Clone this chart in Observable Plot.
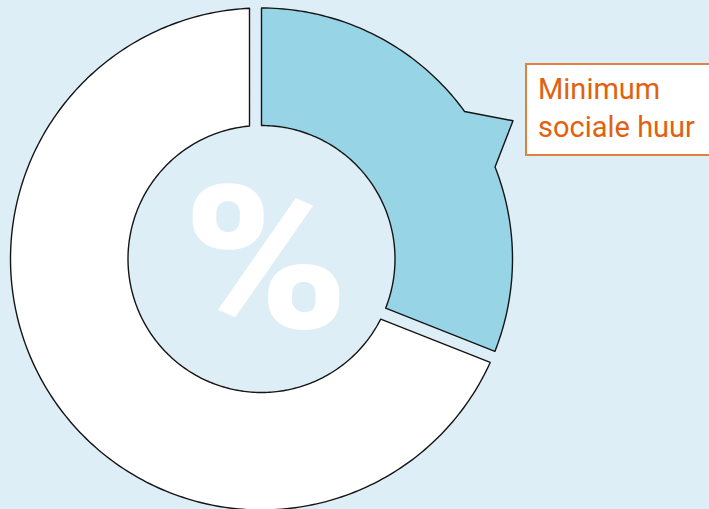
<!DOCTYPE html>
<html><head><meta charset="utf-8">
<script src="https://cdn.jsdelivr.net/npm/d3@7"></script>
<script src="https://cdn.jsdelivr.net/npm/@observablehq/plot@0.6"></script>
<style>
html,body{margin:0;padding:0;background:#ddeef6;}
#wrap{position:relative;width:709px;height:509px;overflow:hidden;}
#wrap svg{position:absolute;left:0;top:0;}
#label{position:absolute;left:525px;top:63px;width:200px;height:93px;background:#fff;border:2px solid #e2803f;box-sizing:border-box;padding:5px 0 0 11px;font-family:Roboto,"Liberation Sans",sans-serif;font-size:29px;line-height:38px;color:#e0620f;white-space:nowrap;}
</style></head><body><div id="wrap"></div>
<script>
// ---- data ----
const categories = ["Minimum sociale huur", "Overig"];
const shares = [31, 69];
const sliceColors = ["#96d4e6", "#ffffff"];
const labelLines = ["Minimum", "sociale huur"];
const centerSymbol = ["%"];

// ---- layout ----
const W = 709, H = 509, CX = 261, CY = 258.5;
const R = 251, r = 133.5, GAP = 12;
const deg = Math.PI / 180;
const pt = (a, rho) => ({x: rho * Math.sin(a * deg), y: -rho * Math.cos(a * deg)});
const arcPts = (a0, a1, rho) => {
  const n = Math.max(2, Math.ceil(Math.abs(a1 - a0)));
  return d3.range(n + 1).map(i => pt(a0 + (a1 - a0) * i / n, rho));
};

const total = d3.sum(shares);
const a1 = shares[0] / total * 360;

// highlighted slice with callout pointer
const pStart = 54, pEnd = 68.5, pTip = 61.2, pLen = 36;
const blue = [
  ...arcPts(0, pStart, R),
  pt(pTip, R + pLen),
  ...arcPts(pEnd, a1, R),
  ...arcPts(a1, 0, r)
];
blue.push(blue[0]);

// remaining slice, separated by a constant-width gap
const so = Math.asin(GAP / R) / deg, si = Math.asin(GAP / r) / deg;
const white = [
  ...arcPts(a1 + so, 360 - so, R),
  ...arcPts(360 - si, a1 + si, r)
];
white.push(white[0]);

const common = {x: "x", y: "y", stroke: "#151515", strokeWidth: 1.4, strokeLinejoin: "round", curve: "linear"};

const chart = Plot.plot({
  width: W, height: H, margin: 0,
  x: {domain: [-CX, W - CX], range: [0, W], axis: null},
  y: {domain: [-CY, H - CY], range: [0, H], axis: null},
  style: {background: "transparent", overflow: "visible"},
  marks: [
    Plot.line(white, {...common, fill: sliceColors[1]}),
    Plot.line(blue, {...common, fill: sliceColors[0]}),
    Plot.text(centerSymbol, {x: () => 4.5, y: () => 5, text: d => d, fill: "white",
      fontSize: 200, fontWeight: 900, fontFamily: "Roboto", className: "pct"})
  ]
});
d3.select(chart).selectAll(".pct text").each(function() {
  const t = this.getAttribute("transform") || "";
  this.setAttribute("transform", t + " scale(1.12,1)");
});
const wrap = document.getElementById("wrap");
wrap.appendChild(chart);
const lab = document.createElement("div");
lab.id = "label";
lab.innerHTML = labelLines.join("<br>");
wrap.appendChild(lab);
</script></body></html>
